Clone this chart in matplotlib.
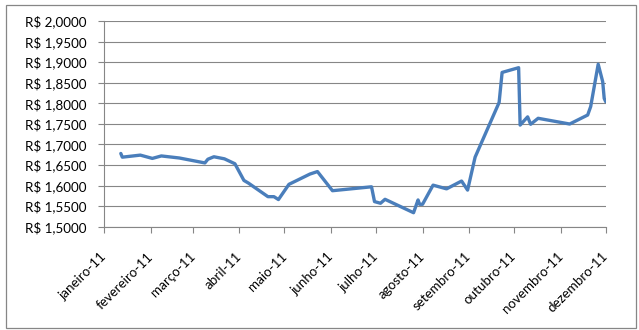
import matplotlib
matplotlib.use('Agg')
import numpy as np
import matplotlib.pyplot as plt
import matplotlib.dates as mdates
from matplotlib.patches import Rectangle
from matplotlib.ticker import FuncFormatter
from matplotlib.transforms import ScaledTranslation

# cotacao ao longo de 2011 (datas e valores)
DATES = ['2011-01-12', '2011-01-13', '2011-01-25', '2011-02-02', '2011-02-08',
         '2011-02-20', '2011-03-09', '2011-03-11', '2011-03-15', '2011-03-22',
         '2011-03-29', '2011-04-04', '2011-04-07', '2011-04-20', '2011-04-24',
         '2011-04-27', '2011-05-04', '2011-05-18', '2011-05-23', '2011-06-02',
         '2011-06-28', '2011-06-30', '2011-07-04', '2011-07-07', '2011-07-26',
         '2011-07-29', '2011-07-30', '2011-08-01', '2011-08-08', '2011-08-17',
         '2011-08-27', '2011-08-31', '2011-09-05', '2011-09-21', '2011-09-23',
         '2011-10-04', '2011-10-05', '2011-10-10', '2011-10-12', '2011-10-17',
         '2011-11-07', '2011-11-19', '2011-11-21', '2011-11-26', '2011-11-29',
         '2011-11-30', '2011-12-01']
VALUES = [1.678, 1.669, 1.674, 1.666, 1.672,
          1.667, 1.655, 1.664, 1.670, 1.665,
          1.653, 1.6125, 1.606, 1.573, 1.573,
          1.566, 1.603, 1.628, 1.634, 1.5875,
          1.597, 1.561, 1.557, 1.5666, 1.534,
          1.565, 1.5545, 1.5545, 1.601, 1.592,
          1.611, 1.589, 1.669, 1.802, 1.875,
          1.8865, 1.747, 1.767, 1.749, 1.7635,
          1.7496, 1.7715, 1.792, 1.895, 1.8525,
          1.812, 1.804]

MONTH_STARTS = ['2011-%02d-01' % m for m in range(1, 13)]
MONTH_LABELS = ['janeiro-11', 'fevereiro-11', 'março-11', 'abril-11', 'maio-11',
                'junho-11', 'julho-11', 'agosto-11', 'setembro-11', 'outubro-11',
                'novembro-11', 'dezembro-11']

GRID = '#868686'
LINE = '#4A7EBB'
plt.rcParams['font.family'] = ['Lato', 'DejaVu Sans']

W, H = 639, 330
fig = plt.figure(figsize=(W / 100, H / 100), dpi=100)
fig.patches.append(Rectangle((6 / W, 1 - 328 / H), 629.7 / W, 323 / H,
                             transform=fig.transFigure, fill=False,
                             edgecolor=GRID, linewidth=0.9))

ax = fig.add_axes([104.3 / W, 1 - 226.7 / H, 501.4 / W, 205.7 / H])

x = mdates.datestr2num(DATES)
ax.plot(x, VALUES, color=LINE, linewidth=2.4,
        solid_joinstyle='round', solid_capstyle='round', zorder=3)

ticks = mdates.datestr2num(MONTH_STARTS)
ax.set_xlim(ticks[0], ticks[-1])
ax.set_xticks(ticks)
ax.set_xticklabels(MONTH_LABELS, rotation=45, ha='right', va='center',
                   rotation_mode='anchor')
shift = ScaledTranslation(3 / 100, 0, fig.dpi_scale_trans)
for lbl in ax.get_xticklabels():
    lbl.set_transform(lbl.get_transform() + shift)

ax.set_ylim(1.5, 2.0)
ax.set_yticks(np.arange(1.5, 2.0001, 0.05))
ax.yaxis.set_major_formatter(FuncFormatter(
    lambda v, p: 'R$ ' + ('%.4f' % v).replace('.', ',')))

ax.grid(axis='y', color=GRID, linewidth=0.8)
ax.set_axisbelow(True)
for s in ['top', 'right']:
    ax.spines[s].set_visible(False)
for s in ['left', 'bottom']:
    ax.spines[s].set_color(GRID)
    ax.spines[s].set_linewidth(0.8)

ax.tick_params(axis='y', length=4, width=0.8, color=GRID, pad=9,
               labelsize=9.6, labelcolor='black')
ax.tick_params(axis='x', length=4, width=0.8, color=GRID, pad=16,
               labelsize=9.6, labelcolor='black')

fig.savefig('out.png', dpi=100)
